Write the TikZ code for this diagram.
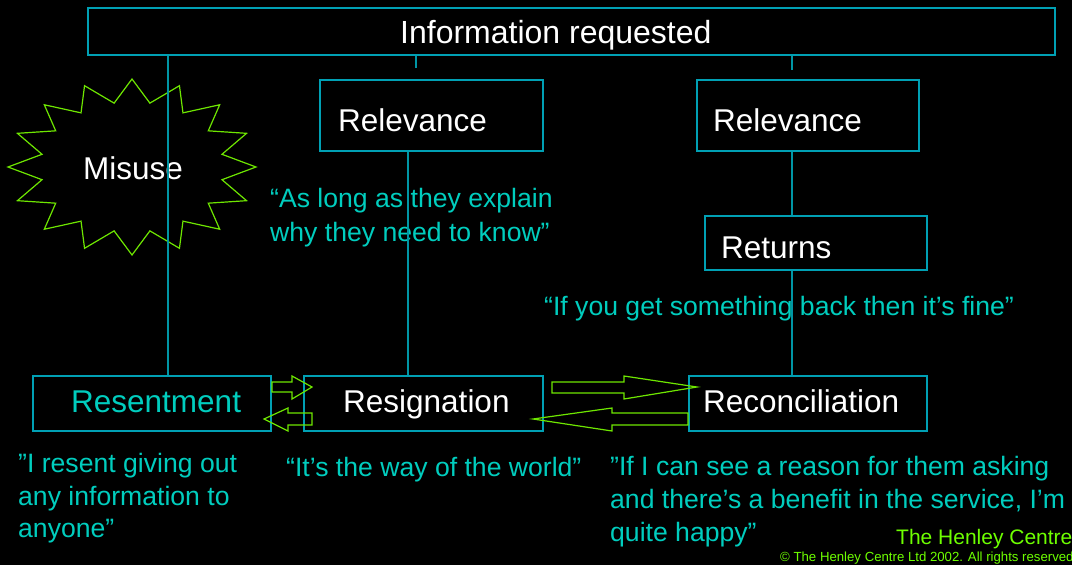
\documentclass[tikz,border=0pt]{standalone}
\usepackage{fontspec}
\setmainfont{Liberation Sans}
\definecolor{boxc}{RGB}{0,160,180}
\definecolor{linec}{RGB}{0,150,165}
\definecolor{quotec}{RGB}{0,205,190}
\definecolor{greent}{RGB}{110,255,0}
\definecolor{greens}{RGB}{110,230,0}
\tikzset{
  box/.style={draw=boxc, line width=1.2pt, inner sep=0pt},
  boxlabel/.style={anchor=base west, inner sep=0pt, text=white, font=\fontsize{31.5}{36}\selectfont},
  quote/.style={anchor=base west, inner sep=0pt, text=quotec, font=\fontsize{26.6}{33}\selectfont},
  conn/.style={draw=linec, line width=1.2pt},
  blockarrow/.style={draw=greens, line width=1.2pt, line join=miter},
}
\begin{document}
\begin{tikzpicture}[x=1pt,y=-1pt]
\fill[black] (0,0) rectangle (1072,565);
\useasboundingbox (0,0) rectangle (1072,565);

% boxes
\node[box, minimum width=967pt, minimum height=47pt] (top) at (571.5,31.5) {};
\node[box, minimum width=223pt, minimum height=71pt] (rel1) at (431.5,115.5) {};
\node[box, minimum width=222pt, minimum height=71pt] (rel2) at (808,115.5) {};
\node[box, minimum width=222pt, minimum height=54pt] (ret) at (816,243) {};
\node[box, minimum width=238pt, minimum height=55pt] (res) at (152,403.5) {};
\node[box, minimum width=239pt, minimum height=55pt] (resig) at (423.5,403.5) {};
\node[box, minimum width=238pt, minimum height=55pt] (recon) at (808,403.5) {};

% box labels
\node[anchor=base west, inner sep=0pt, text=white, font=\fontsize{32}{38}\selectfont] (toplab) at (400,43) {Information requested};
\node[boxlabel] (rel1lab) at (338,131) {Relevance};
\node[boxlabel] (rel2lab) at (713,131) {Relevance};
\node[boxlabel] (retlab) at (721,258) {Returns};
\node[boxlabel, text=quotec] (reslab) at (71,412) {Resentment};
\node[boxlabel] (resiglab) at (343,412) {Resignation};
\node[boxlabel] (reconlab) at (703,412) {Reconciliation};

% star
\draw[draw=greens, line width=1.2pt, line join=miter]
  plot[samples at={0,...,31}, variable=\i]
  ({132+124*(mod(\i,2)==0?1:0.74)*cos(90-\i*11.25)},
   {167-88*(mod(\i,2)==0?1:0.74)*sin(90-\i*11.25)}) -- cycle;
\node[boxlabel] (misuse) at (83,179) {Misuse};

% quotes
\node[quote] (q1a) at (270,207) {“As long as they explain};
\node[quote] (q1b) at (270,241) {why they need to know”};
\node[quote] (q2) at (544,315) {“If you get something back then it’s fine”};
\node[quote] (q3a) at (18,472) {”I resent giving out};
\node[quote] (q3b) at (18,505) {any information to};
\node[quote] (q3c) at (18,537) {anyone”};
\node[quote] (q4) at (286,476) {“It’s the way of the world”};
\node[quote] (q5a) at (610,475) {”If I can see a reason for them asking};
\node[quote] (q5b) at (610,508) {and there’s a benefit in the service, I’m};
\node[quote] (q5c) at (610,541) {quite happy”};

\node[anchor=base west, inner sep=0pt, text=greent, font=\fontsize{21}{25}\selectfont] (henley) at (896,544) {The Henley Centre};
\node[anchor=base west, inner sep=0pt, text=greent, font=\fontsize{13.2}{15}\selectfont] (copy) at (780,561) {© The Henley Centre Ltd 2002. All rights reserved};

% connectors
\coordinate (c1) at (168,0);
\coordinate (c2) at (416,68);
\coordinate (c3) at (792,70);
\coordinate (c4) at (408,0);
\coordinate (c5) at (792,0);
\draw[conn] (top.south -| c1) -- (res.north -| c1);
\draw[conn] (top.south -| c2) -- (c2);
\draw[conn] (top.south -| c3) -- (c3);
\draw[conn] (rel1.south -| c4) -- (resig.north -| c4);
\draw[conn] (rel2.south -| c5) -- (ret.north -| c5);
\draw[conn] (ret.south -| c5) -- (recon.north -| c5);

% block arrows
\draw[blockarrow] (272,382) -- (292,382) -- (292,376) -- (312,387) -- (292,399) -- (292,392) -- (272,392) -- cycle;
\draw[blockarrow] (312,413) -- (288,413) -- (288,408) -- (264,419) -- (288,431) -- (288,425) -- (312,425) -- cycle;
\draw[blockarrow] (552,382) -- (624,382) -- (624,376) -- (697,387) -- (624,399) -- (624,393) -- (552,393) -- cycle;
\draw[blockarrow] (688,413) -- (612,413) -- (612,408) -- (533,419) -- (612,431) -- (612,425) -- (688,425) -- cycle;
\end{tikzpicture}
\end{document}
